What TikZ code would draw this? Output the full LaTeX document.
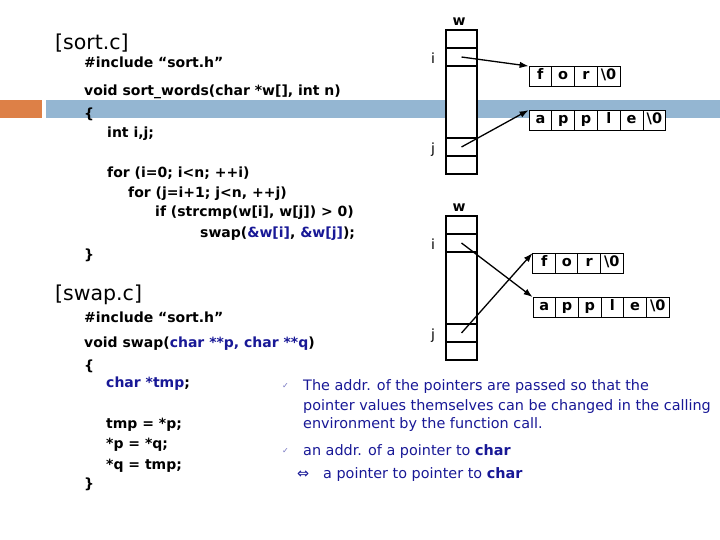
\documentclass[tikz,border=0pt]{standalone}
\usepackage{fontspec}
\setmainfont{DejaVu Sans}
\usetikzlibrary{arrows.meta}
\definecolor{barorange}{RGB}{221,128,71}
\definecolor{barblue}{RGB}{148,182,210}
\definecolor{txtblue}{RGB}{24,24,150}

\begin{document}
\begin{tikzpicture}[
  x=1pt, y=-1pt,
  code/.style={anchor=base west, inner sep=0pt, font=\fontsize{14}{16}\selectfont\bfseries},
  head/.style={anchor=base west, inner sep=0pt, font=\fontsize{20.5}{22}\selectfont},
  note/.style={anchor=base west, inner sep=0pt, text=txtblue, font=\fontsize{14.4}{16}\selectfont},
  tick/.style={anchor=base west, inner sep=0pt, text=txtblue!60, font=\fontsize{8}{8}\selectfont},
  ptr/.style={draw, line width=2.5pt, fill=white, minimum width=31pt, inner sep=0pt},
  chr/.style={draw, line width=0.8pt, fill=white, minimum width=22.75pt, minimum height=20pt,
              inner sep=0pt, text height=1.45ex, text depth=0.3ex,
              font=\fontsize{14.5}{14.5}\selectfont\bfseries},
  lbl/.style={inner sep=0pt, font=\fontsize{14}{14}\selectfont},
  arr/.style={-{Latex[length=9pt,width=6.5pt]}, line width=1.3pt}
]
\useasboundingbox (0,0) rectangle (720,540);
\fill[barorange] (0,100) rectangle (42,118);
\fill[barblue] (46,100) rectangle (720,118);

% two copies of the pointer array w
\foreach \s/\d in {A/0, B/186} {
  \node[ptr, minimum height=18pt] (w\s t) at (461.5, 39+\d) {};
  \node[ptr, minimum height=18pt] (w\s i) at (461.5, 57+\d) {};
  \node[ptr, minimum height=72pt] (w\s m) at (461.5, 102+\d) {};
  \node[ptr, minimum height=18pt] (w\s j) at (461.5, 147+\d) {};
  \node[ptr, minimum height=18pt] (w\s b) at (461.5, 165+\d) {};
  \node[lbl, font=\fontsize{14}{14}\selectfont\bfseries] (w\s lbl) at (459, 22+\d) {w};
  \node[lbl] (i\s lbl) at (433, 58+\d) {i};
  \node[lbl] (j\s lbl) at (433, 150+\d) {j};
}

\foreach \c [count=\k] in {f,o,r,\textbackslash0}
  \node[chr] (sAf\k) at ({529+22.75*(\k-0.5)}, 76.5) {\c};
\foreach \c [count=\k] in {a,p,p,l,e,\textbackslash0}
  \node[chr] (sAa\k) at ({529+22.8*(\k-0.5)}, 120.5) {\c};
\foreach \c [count=\k] in {f,o,r,\textbackslash0}
  \node[chr] (sBf\k) at ({533+22.5*(\k-0.5)}, 263.5) {\c};
\foreach \c [count=\k] in {a,p,p,l,e,\textbackslash0}
  \node[chr] (sBa\k) at ({533+22.7*(\k-0.5)}, 307.5) {\c};

\draw[arr] (wAi.center) -- (sAf1.north west);
\draw[arr] (wAj.center) -- (sAa1.north west);
\draw[arr] (wBi.center) -- (sBa1.north west);
\draw[arr] (wBj.center) -- (sBf1.north west);

\node[head] (sorthd) at (55,50) {[sort.c]};
\node[code] (inc1) at (84,68) {\#include “sort.h”};
\node[code] (sig1) at (84,96) {void sort\_words(char *w[], int n)};
\node[code] (ob1)  at (84,119) {\{};
\node[code] (decl) at (107,138) {int i,j;};
\node[code] (for1) at (107,178) {for (i=0; i<n; ++i)};
\node[code] (for2) at (128,198) {for (j=i+1; j<n, ++j)};
\node[code] (cond) at (155,217) {if (strcmp(w[i], w[j]) > 0)};
\node[code] (call) at (200,237) {swap(\textcolor{txtblue}{\&w[i]}, \textcolor{txtblue}{\&w[j]});};
\node[code] (cb1)  at (84,259) {\}};

\node[head] (swaphd) at (55,300) {[swap.c]};
\node[code] (inc2) at (84,322) {\#include “sort.h”};
\node[code] (sig2) at (84,347) {void swap(\textcolor{txtblue}{char **p, char **q})};
\node[code] (ob2)  at (84,370) {\{};
\node[code] (tmpd) at (106,387) {\textcolor{txtblue}{char *tmp};};
\node[code] (st1)  at (106,428) {tmp = *p;};
\node[code] (st2)  at (106,448) {*p = *q;};
\node[code] (st3)  at (106,469) {*q = tmp;};
\node[code] (cb2)  at (84,488) {\}};

\node[tick] (ck1) at (282,388) {✓};
\node[note] (n1) at (303,390) {The addr. of the pointers are passed so that the};
\node[note] (n2) at (303,410) {pointer values themselves can be changed in the calling};
\node[note] (n3) at (303,428) {environment by the function call.};
\node[tick] (ck2) at (282,453) {✓};
\node[note] (n4) at (303,455) {an addr. of a pointer to \textbf{char}};
\node[note] (eqv) at (297,478) {⇔};
\node[note] (n5) at (323,478) {a pointer to pointer to \textbf{char}};
\end{tikzpicture}
\end{document}
